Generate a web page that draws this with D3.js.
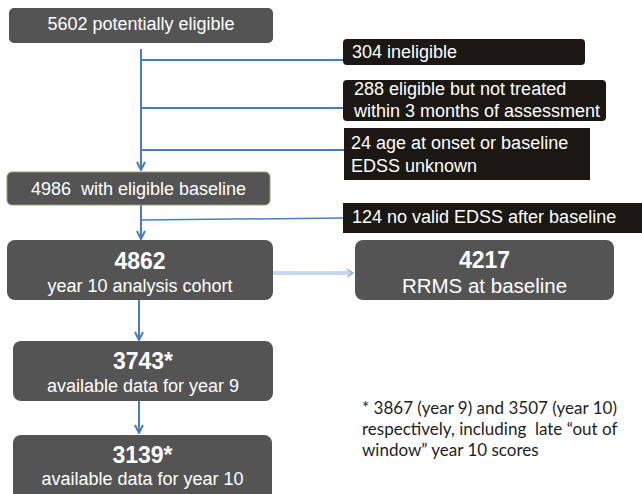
<!DOCTYPE html>
<html><head><meta charset="utf-8">
<script src="https://cdn.jsdelivr.net/npm/d3@7"></script>
<style>body{margin:0;background:#fff}svg{display:block}</style>
</head><body>
<svg id="c" width="642" height="494"></svg>
<script>
// Flow counts and labels
const counts = [5602, 304, 288, 24, 4986, 124, 4862, 4217, 3743, 3139];
const mainLabels = ["5602 potentially eligible", "4986  with eligible baseline"];
const exclusionLabels = [
  ["304 ineligible"],
  ["288 eligible but not treated", "within 3 months of assessment"],
  ["24 age at onset or baseline", "EDSS unknown"],
  ["124 no valid EDSS after baseline"]
];
const cohortTitles = ["4862", "4217", "3743*", "3139*"];
const cohortSubs = ["year 10 analysis cohort", "RRMS at baseline", "available data for year 9", "available data for year 10"];
const footnote = ["* 3867 (year 9) and 3507 (year 10)", "respectively, including  late \u201cout of", "window\u201d year 10 scores"];

const svg = d3.select("#c");
const blue = "#4a7ebb", grey = "#545454", black = "#1b1712";
const font = "'Liberation Sans', Arial, sans-serif";

const defs = svg.append("defs");
defs.append("marker").attr("id","ah").attr("viewBox","0 0 10 10").attr("refX",9).attr("refY",5)
  .attr("markerWidth",5).attr("markerHeight",5).attr("orient","auto")
  .append("path").attr("d","M1,1 L9,5 L1,9").attr("fill","none").attr("stroke",blue).attr("stroke-width",2);

// connectors
const lines = svg.append("g").attr("stroke",blue).attr("stroke-width",2).attr("fill","none");
lines.append("line").attr("x1",141).attr("y1",49).attr("x2",141).attr("y2",170).attr("marker-end","url(#ah)");
[60,108,150].forEach(y=>lines.append("line").attr("x1",141).attr("y1",y).attr("x2",344).attr("y2",y));
lines.append("line").attr("x1",141).attr("y1",205).attr("x2",141).attr("y2",239).attr("marker-end","url(#ah)");
lines.append("line").attr("x1",141).attr("y1",220).attr("x2",344).attr("y2",218).attr("stroke-width",1.5);
lines.append("line").attr("x1",139).attr("y1",300).attr("x2",139).attr("y2",340).attr("marker-end","url(#ah)");
lines.append("line").attr("x1",139).attr("y1",401).attr("x2",139).attr("y2",433).attr("marker-end","url(#ah)");
// double light connector
svg.append("line").attr("x1",273).attr("y1",273).attr("x2",352).attr("y2",273)
  .attr("stroke","#9bb3da").attr("stroke-width",3);
svg.append("line").attr("x1",273).attr("y1",273).attr("x2",351).attr("y2",273)
  .attr("stroke","#f4f7fc").attr("stroke-width",1);
svg.append("path").attr("d","M347,269 L353,273 L347,277").attr("fill","none")
  .attr("stroke","#8eaad4").attr("stroke-width",1.2);

// main grey single-line boxes
const mainBoxes = [{x:9,y:8,w:264,h:35,by:30},{x:7,y:172,w:263,h:33,by:195}];
mainBoxes.forEach((b,i)=>{
  svg.append("rect").attr("x",b.x).attr("y",b.y).attr("width",b.w).attr("height",b.h).attr("rx",5)
    .attr("fill",grey).attr("stroke", i==1?"#9c9a6a":"none").attr("stroke-width",1);
  svg.append("text").attr("x",b.x+b.w/2).attr("y",b.by).attr("text-anchor","middle")
    .attr("fill","#fff").attr("font-family",font).attr("font-size",18).attr("xml:space","preserve").text(mainLabels[i]);
});

// exclusion black boxes
const exBoxes = [{x:343,y:39,w:242,h:26,rx:4,tx:352,by:[58]},{x:343,y:80,w:263,h:41,rx:4,tx:354,by:[95,117]},
                 {x:344,y:128,w:246,h:52,rx:0,tx:351,by:[149,172]},{x:343,y:203,w:305,h:30,rx:0,tx:352,by:[223]}];
exBoxes.forEach((b,i)=>{
  svg.append("rect").attr("x",b.x).attr("y",b.y).attr("width",b.w).attr("height",b.h).attr("rx",b.rx).attr("fill",black);
  exclusionLabels[i].forEach((t,j)=>svg.append("text").attr("x",b.tx).attr("y",b.by[j])
    .attr("fill","#fff").attr("font-family",font).attr("font-size",18).attr("xml:space","preserve").text(t));
});

// cohort boxes
const cBoxes = [{x:7,y:240,w:266,h:60,ty:269,sy:292,ss:18},{x:355,y:240,w:259,h:60,ty:268,sy:293,ss:20.5},
                {x:13,y:341,w:260,h:60,ty:369,sy:392,ss:18},{x:13,y:435,w:259,h:66,ty:463,sy:485,ss:18}];
cBoxes.forEach((b,i)=>{
  svg.append("rect").attr("x",b.x).attr("y",b.y).attr("width",b.w).attr("height",b.h).attr("rx",8).attr("fill",grey);
  svg.append("text").attr("x",b.x+b.w/2).attr("y",b.ty).attr("text-anchor","middle").attr("fill","#fff")
    .attr("font-family",font).attr("font-weight","bold").attr("font-size",23).text(cohortTitles[i]);
  svg.append("text").attr("x",b.x+b.w/2).attr("y",b.sy).attr("text-anchor","middle").attr("fill","#fff")
    .attr("font-family",font).attr("font-size",b.ss).text(cohortSubs[i]);
});

// footnote
footnote.forEach((t,j)=>svg.append("text").attr("x",362).attr("y",414+j*21).attr("fill","#1e1e1e")
  .attr("font-family","Lato, 'Open Sans', sans-serif").attr("font-size",17).attr("xml:space","preserve").text(t));
</script>
</body></html>
